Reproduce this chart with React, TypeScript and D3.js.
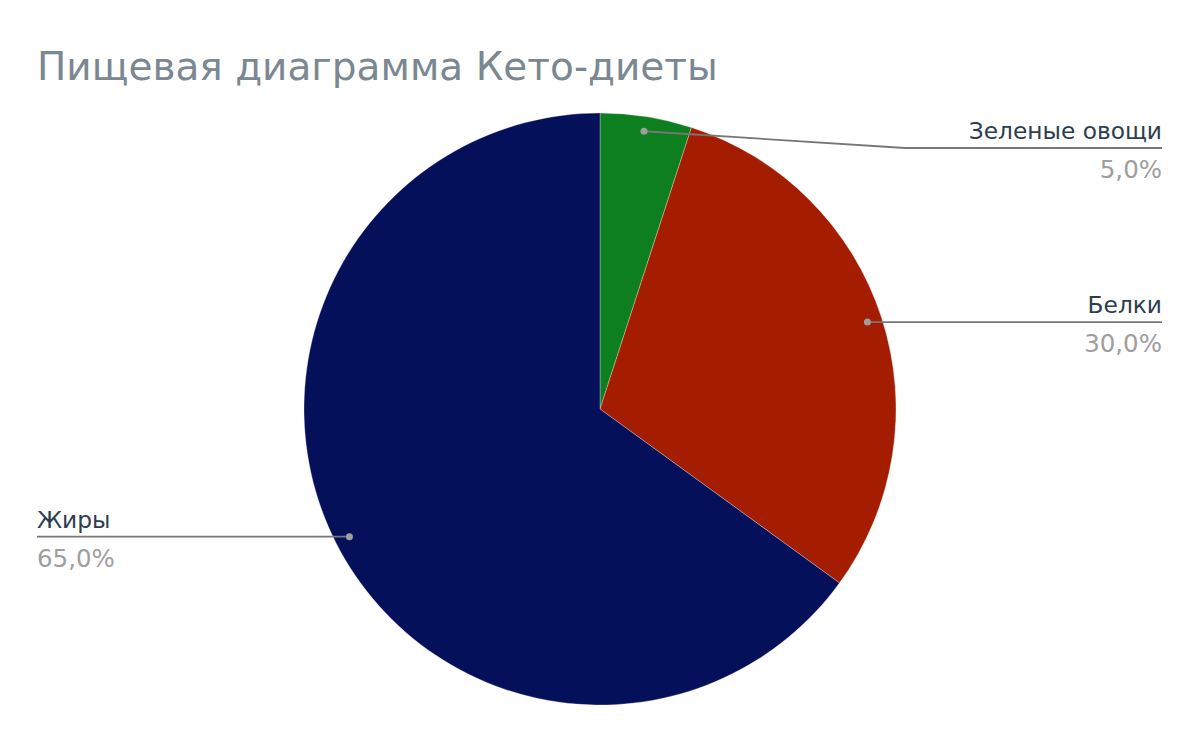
import React from "react";
import * as d3 from "d3";

const categories = ["Зеленые овощи", "Белки", "Жиры"];
const values = [5, 30, 65];
const colors = ["#0e7f1e", "#a51d00", "#05105b"];
const title = "Пищевая диаграмма Кето-диеты";

const W = 1200;
const H = 742;
const cx = 600;
const cy = 409;
const R = 296;
const font = "'DejaVu Sans', sans-serif";

export default function App() {
  const pie = d3.pie<number>().sort(null).value((d) => d)(values);
  const arc = d3.arc<d3.PieArcDatum<number>>().innerRadius(0).outerRadius(R);
  const total = d3.sum(values);
  const fmt = (v: number) => ((v / total) * 100).toFixed(1).replace(".", ",") + "%";

  return (
    <div style={{ position: "fixed", left: 0, top: 0 }}>
      <svg width={W} height={H} style={{ display: "block", background: "#fff" }}>
        <text x={37} y={80} fontFamily={font} fontSize={39} fill="#7b8791">
          {title}
        </text>
        <g transform={`translate(${cx},${cy})`}>
          {pie.map((p, i) => (
            <path key={i} d={arc(p) || ""} fill={colors[i]} stroke="#fff" strokeWidth={0.3} />
          ))}
        </g>
        {pie.map((p, i) => {
          const mid = (p.startAngle + p.endAngle) / 2;
          const r = R * 0.95;
          const dx = cx + r * Math.sin(mid);
          const dy = cy - r * Math.cos(mid);
          const right = Math.sin(mid) >= 0;
          const ly = Math.max(dy, 148);
          const endX = right ? 1162 : 37;
          const elbowX = ly !== dy ? (right ? 905 : 295) : dx;
          const anchor = right ? "end" : "start";
          return (
            <g key={"l" + i}>
              <path
                d={`M${dx},${dy}L${elbowX},${ly}L${endX},${ly}`}
                fill="none"
                stroke="#777"
                strokeWidth={1.8}
              />
              <circle cx={dx} cy={dy} r={3.5} fill="#9e9e9e" />
              <text x={endX} y={ly - 9} textAnchor={anchor} fontFamily={font} fontSize={23.3} fill="#2c3e50">
                {categories[i]}
              </text>
              <text x={endX} y={ly + 30} textAnchor={anchor} fontFamily={font} fontSize={24.5} fill="#9e9e9e">
                {fmt(values[i])}
              </text>
            </g>
          );
        })}
      </svg>
    </div>
  );
}
